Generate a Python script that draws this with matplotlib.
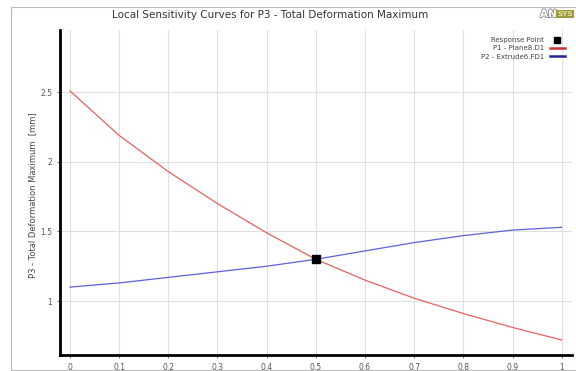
import matplotlib
matplotlib.use("Agg")
import matplotlib.pyplot as plt
import matplotlib.patheffects as pe
from matplotlib.patches import Rectangle

x = [0.0, 0.1, 0.2, 0.3, 0.4, 0.5, 0.6, 0.7, 0.8, 0.9, 1.0]
p1_plane = [2.51, 2.19, 1.93, 1.70, 1.49, 1.30, 1.15, 1.02, 0.91, 0.81, 0.72]
p2_extrude = [1.10, 1.13, 1.17, 1.21, 1.25, 1.30, 1.36, 1.42, 1.47, 1.51, 1.53]
resp_x = [0.5]
resp_y = [1.30]
xticks = [0, 0.1, 0.2, 0.3, 0.4, 0.5, 0.6, 0.7, 0.8, 0.9, 1]
xticklabels = ["0", "0.1", "0.2", "0.3", "0.4", "0.5", "0.6", "0.7", "0.8", "0.9", "1"]
yticks = [1, 1.5, 2, 2.5]
yticklabels = ["1", "1.5", "2", "2.5"]

W, H = 576, 371
fig = plt.figure(figsize=(W / 100, H / 100), dpi=100)
fig.patch.set_facecolor("white")

# outer frame
fig.patches.append(Rectangle((11 / W, 1 - 370 / H), (W - 11) / W, (370 - 7) / H,
                             transform=fig.transFigure, fill=False,
                             edgecolor="#bbbbbb", linewidth=0.8))

ax = fig.add_axes([60 / W, 1 - 355 / H, (572 - 60) / W, (355 - 30) / H])
ax.plot(x, p1_plane, color="#e86060", linewidth=0.9, label="P1 - Plane8.D1")
ax.plot(x, p2_extrude, color="#6060e0", linewidth=0.9, label="P2 - Extrude6.FD1")
ax.plot(resp_x, resp_y, linestyle="none", marker="s", markersize=6,
        color="black", label="Response Point", zorder=5)

ax.set_xlim(-0.0203, 1.021)
ax.set_ylim(0.612, 2.948)
ax.set_xticks(xticks)
ax.set_xticklabels(xticklabels)
ax.set_yticks(yticks)
ax.set_yticklabels(yticklabels)
ax.tick_params(labelsize=5.5, colors="#555555", length=2, width=0.6)
ax.grid(True, color="#e0e0e0", linewidth=0.8)
ax.set_axisbelow(True)
for s in ["top", "right"]:
    ax.spines[s].set_visible(False)
for s in ["left", "bottom"]:
    ax.spines[s].set_linewidth(2)
    ax.spines[s].set_color("black")

handles, labels = ax.get_legend_handles_labels()
order = [2, 0, 1]
leg = ax.legend([handles[i] for i in order], [labels[i] for i in order],
                loc="upper right", bbox_to_anchor=(1.0, 1.0), frameon=False,
                markerfirst=False, fontsize=5, handlelength=2.2,
                labelspacing=0.35, borderaxespad=0.6)
for t in leg.get_texts():
    t.set_color("#444444")
    t.set_ha("right")
leg.legend_handles[0].set_markersize(4)
for lh in leg.legend_handles[1:]:
    lh.set_linewidth(1.8)
leg.legend_handles[1].set_color("#cc3333")
leg.legend_handles[2].set_color("#222299")

fig.text(33 / W, 1 - 195 / H, "P3 - Total Deformation Maximum  [mm]",
         rotation=90, ha="center", va="center", fontsize=6, color="#444444")
fig.text(270 / W, 1 - 15 / H, "Local Sensitivity Curves for P3 - Total Deformation Maximum",
         ha="center", va="center", fontsize=7.5, color="#333333")

# ANSYS logo approximation
fig.text(540 / W, 1 - 14 / H, "AN", ha="left", va="center", fontsize=7.5,
         fontweight="bold", color="white",
         path_effects=[pe.withStroke(linewidth=1.2, foreground="#888888")])
fig.text(557 / W, 1 - 14 / H, "SYS", ha="left", va="center", fontsize=5.2,
         fontweight="bold", color="#e8e0a0",
         bbox=dict(boxstyle="square,pad=0.2", facecolor="#9a9a40", edgecolor="none"))

fig.savefig("out.png", dpi=100)
